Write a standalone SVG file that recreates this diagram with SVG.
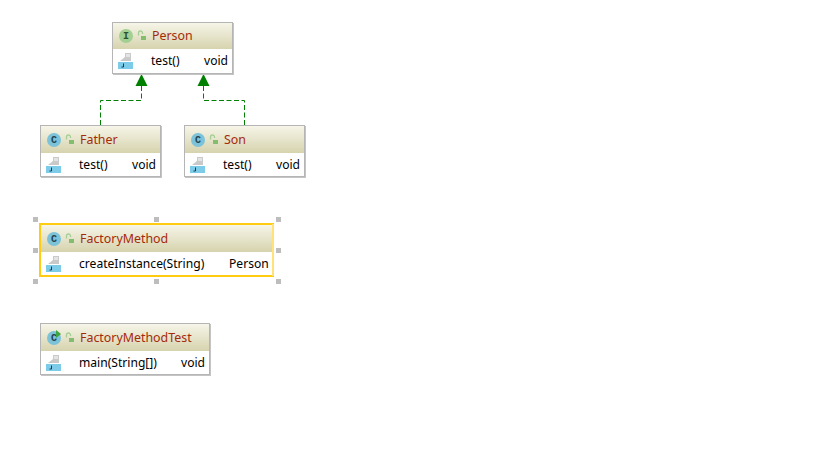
<svg xmlns="http://www.w3.org/2000/svg" width="819" height="460" viewBox="0 0 819 460">
<style>
text{font-family:"Noto Sans","Liberation Sans",sans-serif;font-size:12.1px}
.box{fill:#fff;stroke:#b5b5b5;stroke-width:1}
.shadow{fill:#c4c4c4}
text.title{fill:#a52a0a;font-size:12.4px}
.m{fill:#000}
.conn{fill:none;stroke:#008000;stroke-width:1;stroke-dasharray:5 2.5}
.head{fill:#008000}
.h{fill:#bdbdbd}
text.g{font-family:"Liberation Mono",monospace;font-size:10px;font-weight:bold;text-anchor:middle}
</style>
<defs>
<linearGradient id="hdr" x1="0" y1="0" x2="0" y2="1"><stop offset="0" stop-color="#f6f5e8"/><stop offset="1" stop-color="#d6d3ae"/></linearGradient>
<g id="lock"><path d="M-3.500 -0.500v-2.500a2 2 0 0 1 4 0v1" fill="none" stroke="#a5cf96" stroke-width="1.300"/><rect x="-1" y="0" width="5" height="4" fill="#84bd70"/></g>
<g id="mi"><path d="M2 8l5-4h0v-4h6v8z" fill="#c9c9c9"/><path d="M8 1h4v3h-4z" fill="#e4e4e4"/><rect x="0" y="9" width="15" height="7" fill="#7ccbe9"/><path d="M5.500 10.500v3.500h-2" fill="none" stroke="#1a3a50" stroke-width="1"/></g>
</defs>
<g id="connectors">
<path class="conn" d="M141.500 86V100.500H100.500V125"/>
<path class="conn" d="M203.500 86V100.500H244.500V125"/>
<path class="head" d="M141.500 74l6 12h-12z"/>
<path class="head" d="M203.500 74l6 12h-12z"/>
</g>
<g id="Person">
<rect class="shadow" x="113" y="23" width="121" height="52"/>
<rect class="box" x="112.500" y="22.500" width="120" height="51"/>
<rect x="113" y="23" width="119" height="26" fill="url(#hdr)"/>
<circle cx="126" cy="36" r="7" fill="#a3cf91"/><text class="g" x="126" y="39" fill="#2f4f2f">I</text>
<use href="#lock" x="142" y="36"/>
<text class="title" x="152" y="40">Person</text>
<use href="#mi" x="118" y="53"/>
<text class="m" x="151" y="65">test()</text><text class="m" x="204" y="65">void</text>
</g>
<g id="Father">
<rect class="shadow" x="41" y="126" width="121" height="52"/>
<rect class="box" x="40.500" y="125.500" width="120" height="51"/>
<rect x="41" y="126" width="119" height="27" fill="url(#hdr)"/>
<circle cx="54" cy="140" r="7" fill="#7cc2d8"/><text class="g" x="54" y="143" fill="#1f4050">C</text>
<use href="#lock" x="70" y="140"/>
<text class="title" x="80" y="144">Father</text>
<use href="#mi" x="46" y="157"/>
<text class="m" x="79" y="169">test()</text><text class="m" x="132" y="169">void</text>
</g>
<g id="Son">
<rect class="shadow" x="185" y="126" width="121" height="52"/>
<rect class="box" x="184.500" y="125.500" width="120" height="51"/>
<rect x="185" y="126" width="119" height="27" fill="url(#hdr)"/>
<circle cx="198" cy="140" r="7" fill="#7cc2d8"/><text class="g" x="198" y="143" fill="#1f4050">C</text>
<use href="#lock" x="214" y="140"/>
<text class="title" x="224" y="144">Son</text>
<use href="#mi" x="190" y="157"/>
<text class="m" x="223" y="169">test()</text><text class="m" x="276" y="169">void</text>
</g>
<g id="FactoryMethod">
<rect x="40" y="224" width="233" height="52" fill="#fff" stroke="#ffcc11" stroke-width="2"/>
<rect x="272" y="224" width="2" height="52" fill="#ffe27a"/>
<rect x="41" y="225" width="231" height="27" fill="url(#hdr)"/>
<circle cx="54" cy="239" r="7" fill="#7cc2d8"/><text class="g" x="54" y="242" fill="#1f4050">C</text>
<use href="#lock" x="70" y="239"/>
<text class="title" x="80" y="243">FactoryMethod</text>
<use href="#mi" x="46" y="256"/>
<text class="m" x="79" y="268">createInstance(String)</text><text class="m" x="229" y="268">Person</text>
<rect class="h" x="33" y="217" width="5" height="5"/><rect class="h" x="154" y="217" width="5" height="5"/><rect class="h" x="276" y="217" width="5" height="5"/>
<rect class="h" x="33" y="248" width="5" height="5"/><rect class="h" x="276" y="248" width="5" height="5"/>
<rect class="h" x="33" y="279" width="5" height="5"/><rect class="h" x="154" y="279" width="5" height="5"/><rect class="h" x="276" y="279" width="5" height="5"/>
</g>
<g id="FactoryMethodTest">
<rect class="shadow" x="41" y="324" width="170" height="52"/>
<rect class="box" x="40.500" y="323.500" width="169" height="51"/>
<rect x="41" y="324" width="168" height="27" fill="url(#hdr)"/>
<circle cx="54" cy="338" r="7" fill="#7cc2d8"/><text class="g" x="54" y="341" fill="#1f4050">C</text>
<path d="M56 330l5 4-5 4z" fill="#3fa53f"/>
<use href="#lock" x="70" y="338"/>
<text class="title" x="80" y="342">FactoryMethodTest</text>
<use href="#mi" x="46" y="355"/>
<text class="m" x="79" y="367">main(String[])</text><text class="m" x="181" y="367">void</text>
</g>
</svg>
